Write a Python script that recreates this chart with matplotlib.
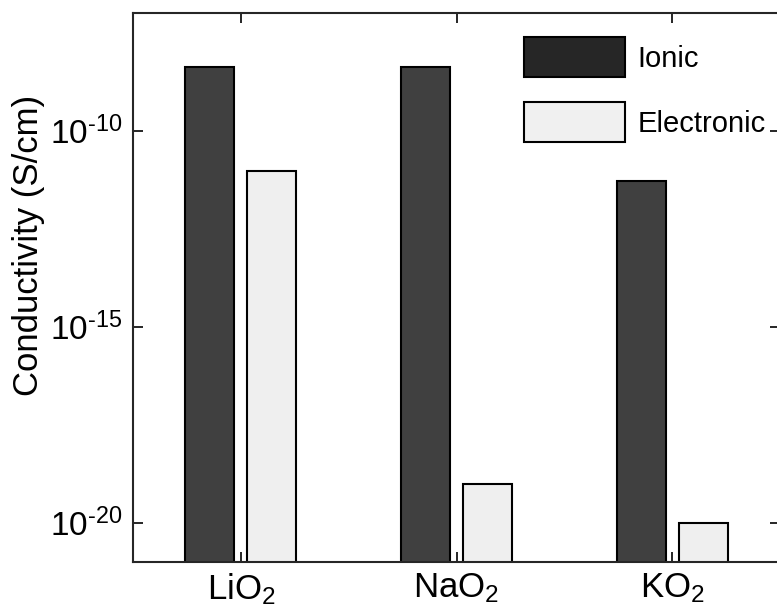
import numpy as np
import matplotlib
matplotlib.use("Agg")
import matplotlib.pyplot as plt
from matplotlib.patches import Patch

# values (S/cm)
materials = ["LiO$_2$", "NaO$_2$", "KO$_2$"]
ionic = [4.2e-9, 4.2e-9, 5.3e-12]
electronic = [9.5e-12, 1.0e-19, 1.0e-20]
yticks = [1e-20, 1e-15, 1e-10]
ytick_labels = ['$10^{\u201020}$', '$10^{\u201015}$', '$10^{\u201010}$']

plt.rcParams['font.family'] = ['Liberation Sans', 'DejaVu Sans']
plt.rcParams['mathtext.fontset'] = 'custom'
plt.rcParams['mathtext.rm'] = 'Liberation Sans'
plt.rcParams['mathtext.it'] = 'Liberation Sans'
plt.rcParams['mathtext.bf'] = 'Liberation Sans'
plt.rcParams['mathtext.sf'] = 'Liberation Sans'

fig = plt.figure(figsize=(7.77, 6.12), dpi=100)
ax = fig.add_axes([133 / 777, 50 / 612, 647 / 777, 549 / 612])

x = np.arange(1, len(materials) + 1)
w = 0.227
ax.bar(x - 0.1435, ionic, w, color='#404040', edgecolor='black', linewidth=1.5,
       log=True, zorder=2)
ax.bar(x + 0.1435, electronic, w, color='#efefef', edgecolor='black', linewidth=1.5,
       log=True, zorder=2)

ax.set_yscale('log')
ax.set_ylim(1e-21, 1e-7)
ax.set_xlim(0.5, 3.5)
ax.set_yticks(yticks)
ax.set_yticklabels(ytick_labels)
ax.minorticks_off()
ax.set_xticks(x)
ax.set_xticklabels(materials)

ax.tick_params(direction='in', length=7, width=1.4, color='#262626',
               top=True, right=True, labelsize=24, pad=8)
ax.tick_params(axis='x', labelsize=25, pad=7)
for s in ax.spines.values():
    s.set_linewidth(1.5)
    s.set_color('#262626')

ax.set_ylabel('Conductivity (S/cm)', fontsize=25)
ax.yaxis.set_label_coords(-0.162, 0.576)
ax.yaxis.label.set_va('center')

handles = [Patch(facecolor='#262626', edgecolor='black', linewidth=1.5, label='Ionic'),
           Patch(facecolor='#f0f0f0', edgecolor='black', linewidth=1.5, label='Electronic')]
fig.legend(handles=handles, loc='upper left', bbox_to_anchor=(524 / 777, 1 - 37 / 612),
           frameon=False, fontsize=21, borderpad=0, borderaxespad=0,
           handlelength=3.45, handleheight=1.75, labelspacing=0.85, handletextpad=0.45)

fig.savefig('out.png', dpi=100)
